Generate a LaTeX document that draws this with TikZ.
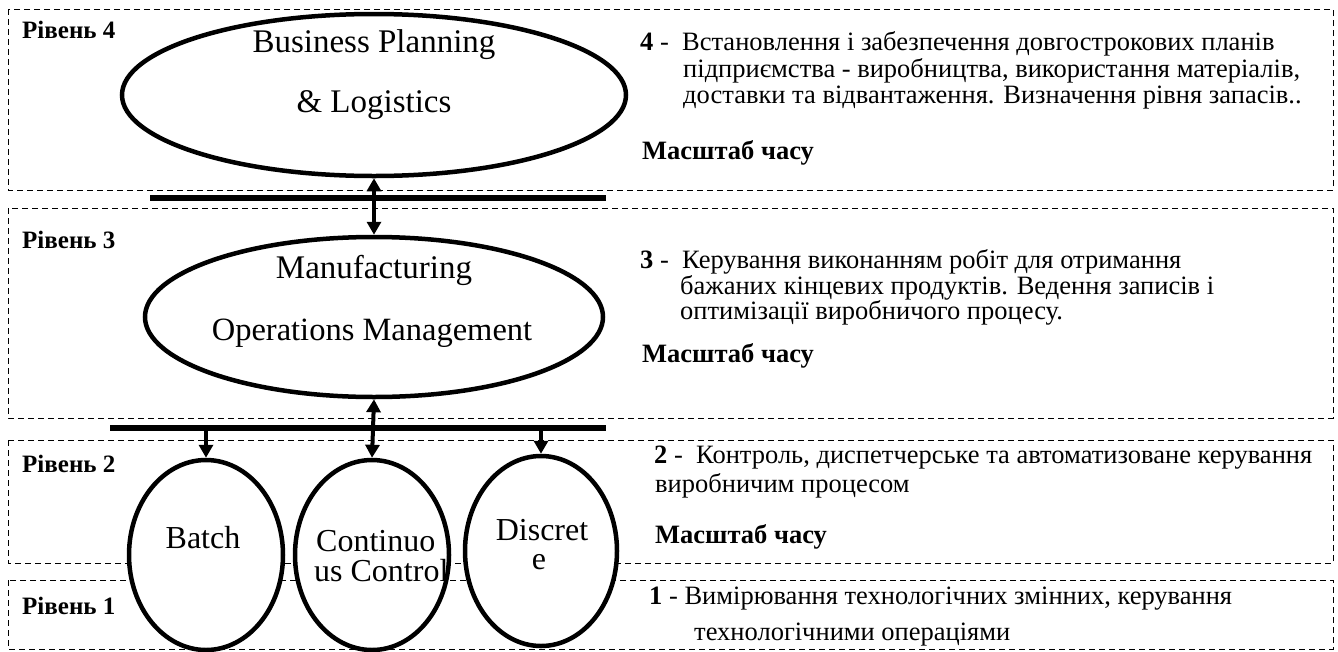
\documentclass[tikz,border=0pt]{standalone}
\usepackage{fontspec}
\setmainfont{Liberation Serif}
\usetikzlibrary{arrows.meta,shapes.geometric}
\begin{document}
\begin{tikzpicture}[x=1pt,y=-1pt,
  levelbox/.style={draw, line width=1pt, dash pattern=on 6pt off 4pt},
  proc/.style={draw, line width=4.5pt, fill=white, ellipse, inner sep=0pt},
  bus/.style={line width=6.5pt},
  link/.style={line width=4pt, -{Triangle[width=14pt,length=13pt]}},
  dlink/.style={line width=4pt, {Triangle[width=14pt,length=13pt]}-{Triangle[width=14pt,length=13pt]}},
  big/.style={font=\fontsize{33}{36}\selectfont},
  mid/.style={font=\fontsize{32}{34}\selectfont},
  lvl/.style={font=\fontsize{25}{28}\selectfont\bfseries, anchor=west, inner sep=0pt},
  desc/.style={font=\fontsize{26.5}{28}\selectfont, anchor=west, inner sep=0pt},
  descb/.style={desc, font=\fontsize{26.5}{28}\selectfont\bfseries},
]
\useasboundingbox (0,0) rectangle (1338,651);
% level boxes
\draw[levelbox] (8,9) rectangle (1333,190);
\draw[levelbox] (8,208) rectangle (1333,418);
\draw[levelbox] (8,440) rectangle (1333,563);
\draw[levelbox] (8,580) rectangle (1333,649);

% ellipses
\node[proc, minimum width=504pt, minimum height=162pt] (e4) at (374,95) {};
\node[proc, minimum width=458pt, minimum height=160pt] (e3) at (374,317) {};
\node[proc, minimum width=154pt, minimum height=190pt] (batch) at (206,555) {};
\node[proc, minimum width=154pt, minimum height=190pt] (cont) at (372,555) {};
\node[proc, minimum width=152pt, minimum height=190pt] (disc) at (541,551) {};

% buses
\coordinate (bus1w) at (150,198);
\coordinate (bus1e) at (606,198);
\coordinate (bus2w) at (110,428);
\coordinate (bus2e) at (606,428);
\draw[bus] (bus1w) -- (bus1e);
\draw[bus] (bus2w) -- (bus2e);
\path (batch.north |- bus2w) coordinate (tapB);
\path (disc.north |- bus2w) coordinate (tapD);

% connectors
\draw[dlink] (e4.south) -- (e3.north);
\draw[dlink] (e3.south) -- (cont.north);
\draw[link] (tapB) -- (batch.north);
\draw[link] (tapD) -- (disc.north);

% ellipse texts
\node[big] (t4a) at (374,45) {Business Planning};
\node[big] (t4b) at (374,105) {\& Logistics};
\node[big] (t3a) at (374,270) {Manufacturing};
\node[big, font=\fontsize{32.5}{36}\selectfont] (t3b) at (372,333) {Operations Management};
\node[mid] (tb) at (203,538) {Batch};
\node[mid, anchor=west, inner sep=0pt] (tc1) at (316,541) {Continuo};
\node[mid, anchor=west, inner sep=0pt] (tc2) at (314,571) {us Control};
\node[mid] (td1) at (542,530) {Discret};
\node[mid] (td2) at (539,562) {e};

% level labels
\node[lvl] (l4) at (22,30) {Рівень 4};
\node[lvl] (l3) at (22,240) {Рівень 3};
\node[lvl] (l2) at (22,464) {Рівень 2};
\node[lvl] (l1) at (22,606) {Рівень 1};

% descriptions
\node[desc] (d4a) at (640,44) {\textbf{4} -\ \ Встановлення і забезпечення довгострокових планів};
\node[desc] (d4b) at (683,71) {підприємства - виробництва, використання матеріалів,};
\node[desc] (d4c) at (683,98) {доставки та відвантаження. Визначення рівня запасів..};
\node[descb] (m4) at (642,153) {Масштаб часу};

\node[desc] (d3a) at (640,262) {\textbf{3} -\ \ Керування виконанням робіт для отримання};
\node[desc] (d3b) at (680,288) {бажаних кінцевих продуктів. Ведення записів і};
\node[desc] (d3c) at (680,313) {оптимізації виробничого процесу.};
\node[descb] (m3) at (642,356) {Масштаб часу};

\node[desc] (d2a) at (654,458) {\textbf{2} -\ \ Контроль, диспетчерське та автоматизоване керування};
\node[desc] (d2b) at (655,486) {виробничим процесом};
\node[descb] (m2) at (655,537) {Масштаб часу};

\node[desc] (d1a) at (649,599) {\textbf{1} - Вимірювання технологічних змінних, керування};
\node[desc] (d1b) at (694,635) {технологічними операціями};
\end{tikzpicture}
\end{document}
